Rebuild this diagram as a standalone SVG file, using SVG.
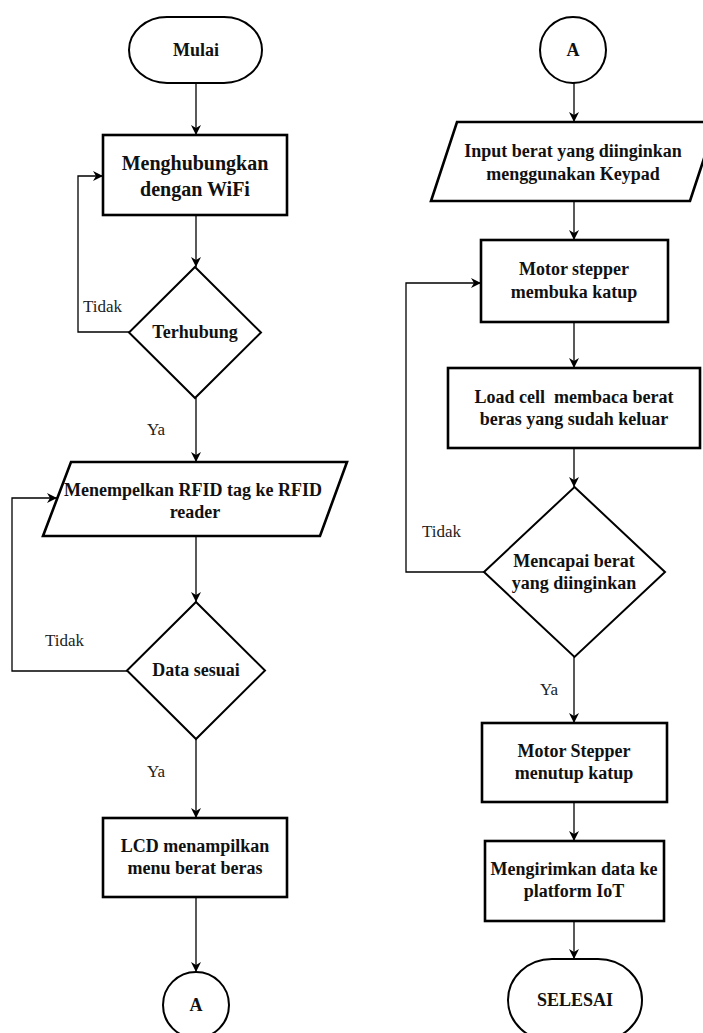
<svg xmlns="http://www.w3.org/2000/svg" width="703" height="1033" viewBox="0 0 703 1033">
<defs>
<style>
.box{fill:#fff;stroke:#000;stroke-width:2.6}
.shape{fill:#fff;stroke:#000;stroke-width:2}
.conn{fill:none;stroke:#000;stroke-width:1.3}
.t{font-family:"Liberation Serif","Times New Roman",serif;font-weight:bold;font-size:18px;fill:#111;text-anchor:middle}
.lbl{font-family:"Liberation Serif","Times New Roman",serif;font-size:17px;fill:#222}
</style>
<marker id="ah" viewBox="0 0 10 10" refX="10" refY="5" markerWidth="10" markerHeight="10" markerUnits="userSpaceOnUse" orient="auto">
<path d="M0,0 L10,5 L0,10 L3,5 Z" fill="#000"/>
</marker>
</defs>
<rect width="703" height="1033" fill="#fff"/>
<g id="connectors">
<line class="conn" x1="196" y1="83" x2="196" y2="135" marker-end="url(#ah)"/>
<line class="conn" x1="196" y1="215" x2="196" y2="267" marker-end="url(#ah)"/>
<polyline class="conn" points="129,332 78,332 78,176 103,176" marker-end="url(#ah)"/>
<line class="conn" x1="196" y1="398" x2="196" y2="462" marker-end="url(#ah)"/>
<line class="conn" x1="196" y1="536" x2="196" y2="602" marker-end="url(#ah)"/>
<polyline class="conn" points="127,671 12,671 12,498 57,498" marker-end="url(#ah)"/>
<line class="conn" x1="196" y1="739" x2="196" y2="818" marker-end="url(#ah)"/>
<line class="conn" x1="196" y1="897" x2="196" y2="972" marker-end="url(#ah)"/>
<line class="conn" x1="574" y1="83" x2="574" y2="122" marker-end="url(#ah)"/>
<line class="conn" x1="574" y1="201" x2="574" y2="240" marker-end="url(#ah)"/>
<line class="conn" x1="574" y1="322" x2="574" y2="368" marker-end="url(#ah)"/>
<line class="conn" x1="574" y1="448" x2="574" y2="487" marker-end="url(#ah)"/>
<polyline class="conn" points="484,572 406,572 406,283 481,283" marker-end="url(#ah)"/>
<line class="conn" x1="574" y1="657" x2="574" y2="723" marker-end="url(#ah)"/>
<line class="conn" x1="574" y1="802" x2="574" y2="841" marker-end="url(#ah)"/>
<line class="conn" x1="574" y1="921" x2="574" y2="959" marker-end="url(#ah)"/>
<text class="lbl" x="83" y="312">Tidak</text>
<text class="lbl" x="147" y="435">Ya</text>
<text class="lbl" x="45" y="646">Tidak</text>
<text class="lbl" x="147" y="777">Ya</text>
<text class="lbl" x="422" y="537">Tidak</text>
<text class="lbl" x="540" y="695">Ya</text>
</g>
<g id="mulai">
<rect class="shape" x="129" y="17" width="133" height="66" rx="38" ry="33"/>
<text class="t" x="196" y="56">Mulai</text>
</g>
<g id="wifi">
<rect class="box" x="103" y="135" width="184" height="80"/>
<text class="t" x="195" y="170" style="font-size:20px">Menghubungkan</text>
<text class="t" x="195" y="196" style="font-size:20px">dengan WiFi</text>
</g>
<g id="terhubung">
<polygon class="shape" points="195,267 261,332.5 195,398 129,332.5"/>
<text class="t" x="195" y="338">Terhubung</text>
</g>
<g id="rfid">
<polygon class="box" points="71,462 347,462 320,536 43,536"/>
<text class="t" x="193" y="496">Menempelkan RFID tag ke RFID</text>
<text class="t" x="195" y="518">reader</text>
</g>
<g id="datasesuai">
<polygon class="shape" points="196,602 265,670.5 196,739 127,670.5"/>
<text class="t" x="196" y="676">Data sesuai</text>
</g>
<g id="lcd">
<rect class="box" x="103" y="818" width="184" height="79"/>
<text class="t" x="195" y="852">LCD menampilkan</text>
<text class="t" x="195" y="874">menu berat beras</text>
</g>
<g id="connA1">
<circle class="shape" cx="196" cy="1005" r="33"/>
<text class="t" x="196" y="1011">A</text>
</g>
<g id="connA2">
<circle class="shape" cx="573" cy="50" r="33"/>
<text class="t" x="573" y="56">A</text>
</g>
<g id="keypad">
<polygon class="box" points="457,122 716,122 690,201 431,201"/>
<text class="t" x="573" y="157">Input berat yang diinginkan</text>
<text class="t" x="573" y="180">menggunakan Keypad</text>
</g>
<g id="buka">
<rect class="box" x="481" y="240" width="187" height="82"/>
<text class="t" x="574" y="275">Motor stepper</text>
<text class="t" x="574" y="298">membuka katup</text>
</g>
<g id="loadcell">
<rect class="box" x="448" y="368" width="252" height="80"/>
<text class="t" x="574" y="403" xml:space="preserve">Load cell  membaca berat</text>
<text class="t" x="574" y="425">beras yang sudah keluar</text>
</g>
<g id="mencapai">
<polygon class="shape" points="574.5,487 665,572 574.5,657 484,572"/>
<text class="t" x="574" y="567">Mencapai berat</text>
<text class="t" x="574" y="589">yang diinginkan</text>
</g>
<g id="tutup">
<rect class="box" x="482" y="723" width="185" height="79"/>
<text class="t" x="574" y="757">Motor Stepper</text>
<text class="t" x="574" y="779">menutup katup</text>
</g>
<g id="kirim">
<rect class="box" x="485" y="841" width="179" height="80"/>
<text class="t" x="574" y="875">Mengirimkan data ke</text>
<text class="t" x="574" y="897">platform IoT</text>
</g>
<g id="selesai">
<rect class="shape" x="508" y="959" width="134" height="82" rx="44" ry="41"/>
<text class="t" x="575" y="1006">SELESAI</text>
</g>
</svg>
